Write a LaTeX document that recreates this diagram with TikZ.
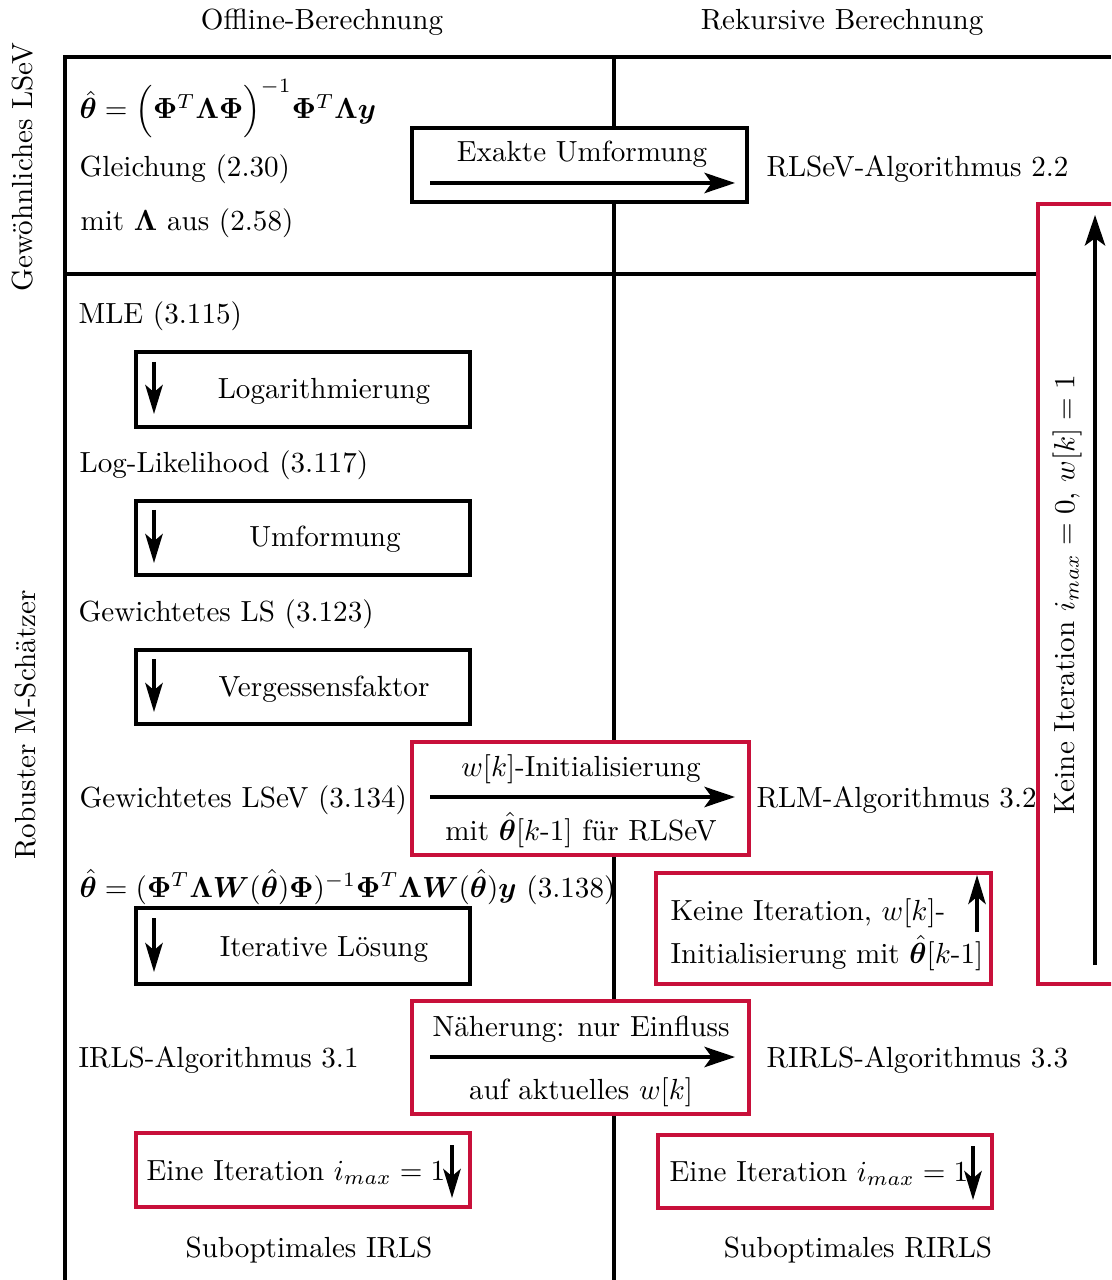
\documentclass[tikz,border=0pt]{standalone}
\usepackage{amsmath,amssymb,bm}
\usetikzlibrary{arrows.meta,fit}
\definecolor{boxred}{RGB}{200,16,58}
\tikzset{
  frame/.style={line width=1.1pt},
  bbox/.style={draw=black,line width=1.1pt,fill=white,inner sep=0pt},
  rbox/.style={draw=boxred,line width=1.1pt,fill=white,inner sep=0pt},
  txt/.style={anchor=base west,inner sep=0pt},
  ctxt/.style={anchor=base,inner sep=0pt},
  harrow/.style={line width=1.2pt,-{Stealth[length=10.5pt,width=7pt,inset=2.5pt]}},
  varrow/.style={line width=1.1pt,-{Stealth[length=10pt,width=6pt,inset=2.5pt]}},
}
\newcommand{\bth}{\hat{\bm{\theta}}}
\begin{document}
\begin{tikzpicture}[x=0.3435pt,y=-0.3435pt]
\clip (0,0) rectangle (1111,1280);
\fill[white] (0,0) rectangle (1111,1280);

% column and row frame
\coordinate (tl) at (65,57);
\coordinate (tr) at (1111,57);
\coordinate (bl) at (65,1280);
\coordinate (tm) at (614,57);
\coordinate (bm) at (614,1280);
\coordinate (ml) at (65,274);
\coordinate (mr) at (1111,274);
\draw[frame] (bl) -- (tl) -- (tr);
\draw[frame] (tm) -- (bm);
\draw[frame] (ml) -- (mr);

% headers
\node[ctxt] (h1) at (322,30) {Offline-Berechnung};
\node[ctxt] (h2) at (842,30) {Rekursive Berechnung};
\node[rotate=90,inner sep=0pt] (r1) at (23,167) {Gewöhnliches LSeV};
\node[rotate=90,inner sep=0pt] (r2) at (26,725) {Robuster M-Schätzer};

% ordinary least squares row
\node[txt] (f1) at (79,119) {$\bth = \Bigl(\bm{\Phi}^T\bm{\Lambda}\bm{\Phi}\Bigr)^{-1}\bm{\Phi}^T\bm{\Lambda}\bm{y}$};
\node[txt] (g1) at (79,177) {Gleichung (2.30)};
\node[txt] (g2) at (80,231) {mit $\bm{\Lambda}$ aus (2.58)};
\node[bbox,fit={(412,128) (747,202)}] (b0) {};
\node[ctxt] (b0t) at (582,162) {Exakte Umformung};
\coordinate (a0s) at (430,183);
\coordinate (a0e) at (735,183);
\draw[harrow] (a0s) -- (a0e);
\node[txt] (rls) at (766,177) {RLSeV-Algorithmus 2.2};

% robust estimator, offline chain
\node[txt] (mle) at (78,324) {MLE (3.115)};
\node[bbox,fit={(136,352) (470,427)}] (b1) {};
\node[ctxt] at (324,399) {Logarithmierung};
\coordinate (a1s) at (154,362);
\coordinate (a1e) at (154,414);
\draw[varrow] (a1s) -- (a1e);

\node[txt] (ll) at (79,473) {Log-Likelihood (3.117)};
\node[bbox,fit={(136,501) (470,575)}] (b2) {};
\node[ctxt] at (325,547) {Umformung};
\coordinate (a2s) at (154,510);
\coordinate (a2e) at (154,563);
\draw[varrow] (a2s) -- (a2e);

\node[txt] (gls) at (78,622) {Gewichtetes LS (3.123)};
\node[bbox,fit={(136,650) (470,724)}] (b3) {};
\node[ctxt] at (324,696) {Vergessensfaktor};
\coordinate (a3s) at (154,659);
\coordinate (a3e) at (154,712);
\draw[varrow] (a3s) -- (a3e);

\node[txt] (glsev) at (79,807) {Gewichtetes LSeV (3.134)};
\node[rbox,fit={(412,742) (749,855)}] (b4) {};
\node[ctxt] at (581,776) {$w[k]$-Initialisierung};
\node[ctxt] at (581,840) {mit $\bth[k\text{-}1]$ für RLSeV};
\coordinate (a4s) at (430,797);
\coordinate (a4e) at (735,797);
\draw[harrow] (a4s) -- (a4e);
\node[txt] (rlm) at (756,807) {RLM-Algorithmus 3.2};

\node[txt] (f2) at (79,897) {$\bth = (\bm{\Phi}^T\bm{\Lambda}\bm{W}(\bth)\bm{\Phi})^{-1}\bm{\Phi}^T\bm{\Lambda}\bm{W}(\bth)\bm{y}$ (3.138)};
\node[bbox,fit={(136,908) (470,984)}] (b5) {};
\node[ctxt] at (324,956) {Iterative Lösung};
\coordinate (a5s) at (154,918);
\coordinate (a5e) at (154,972);
\draw[varrow] (a5s) -- (a5e);

% recursive side, no iteration
\node[rbox,fit={(656,873) (991,984)}] (b6) {};
\node[txt] at (670,920) {Keine Iteration, $w[k]$-};
\node[txt] at (670,963) {Initialisierung mit $\bth[k\text{-}1]$};
\coordinate (a6s) at (977,932);
\coordinate (a6e) at (977,875);
\draw[varrow] (a6s) -- (a6e);

\node[rbox,fit={(1038,204) (1130,984)}] (b7) {};
\node[rotate=90,inner sep=0pt] (b7t) at (1067,595) {Keine Iteration $i_{max}=0$, $w[k]=1$};
\coordinate (a7s) at (1095,965);
\coordinate (a7e) at (1095,215);
\draw[harrow] (a7s) -- (a7e);

% approximation step
\node[txt] (irls) at (78,1067) {IRLS-Algorithmus 3.1};
\node[rbox,fit={(412,1001) (749,1114)}] (b8) {};
\node[ctxt] at (581,1036) {Näherung: nur Einfluss};
\node[ctxt] at (581,1099) {auf aktuelles $w[k]$};
\coordinate (a8s) at (430,1057);
\coordinate (a8e) at (735,1057);
\draw[harrow] (a8s) -- (a8e);
\node[txt] (rirls) at (766,1067) {RIRLS-Algorithmus 3.3};

% single iteration variants
\node[rbox,fit={(136,1133) (470,1207)}] (b9) {};
\node[txt] at (146,1180) {Eine Iteration $i_{max}=1$};
\coordinate (a9s) at (452,1145);
\coordinate (a9e) at (452,1198);
\draw[varrow] (a9s) -- (a9e);

\node[rbox,fit={(658,1135) (992,1208)}] (b10) {};
\node[txt] at (669,1181) {Eine Iteration $i_{max}=1$};
\coordinate (a10s) at (973,1146);
\coordinate (a10e) at (973,1200);
\draw[varrow] (a10s) -- (a10e);

\node[ctxt] (s1) at (309,1257) {Suboptimales IRLS};
\node[ctxt] (s2) at (858,1257) {Suboptimales RIRLS};
\end{tikzpicture}
\end{document}
